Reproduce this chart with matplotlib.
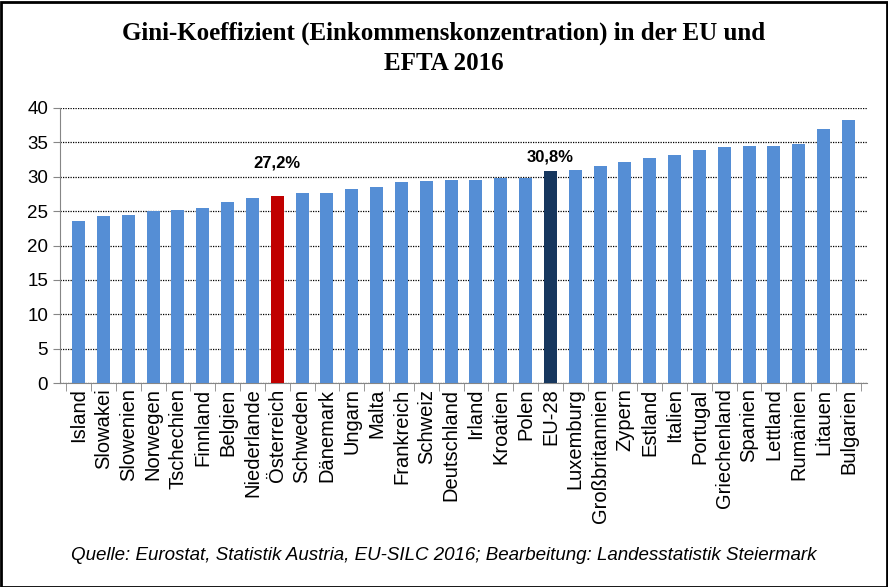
import numpy as np
import matplotlib.pyplot as plt
from matplotlib.patches import Rectangle

laender = ['Island', 'Slowakei', 'Slowenien', 'Norwegen', 'Tschechien', 'Finnland',
           'Belgien', 'Niederlande', 'Österreich', 'Schweden', 'Dänemark', 'Ungarn',
           'Malta', 'Frankreich', 'Schweiz', 'Deutschland', 'Irland', 'Kroatien',
           'Polen', 'EU-28', 'Luxemburg', 'Großbritannien', 'Zypern', 'Estland',
           'Italien', 'Portugal', 'Griechenland', 'Spanien', 'Lettland', 'Rumänien',
           'Litauen', 'Bulgarien']
gini = [23.6, 24.3, 24.4, 25.0, 25.1, 25.4,
        26.3, 26.9, 27.2, 27.6, 27.7, 28.2,
        28.5, 29.3, 29.4, 29.5, 29.5, 29.8,
        29.8, 30.8, 31.0, 31.5, 32.1, 32.7,
        33.1, 33.9, 34.3, 34.5, 34.5, 34.7,
        37.0, 38.3]
# Farbe, Beschriftung, Abstand der Beschriftung (pt)
markiert = {'Österreich': ('#C00000', '27,2%', 24), 'EU-28': ('#17375E', '30,8%', 10)}

plt.rcParams['font.family'] = ['Liberation Sans', 'DejaVu Sans']

fig = plt.figure(figsize=(8.88, 5.87), dpi=100)
ax = fig.add_axes([60 / 888, 1 - 383 / 587, (867 - 60) / 888, 275 / 587])

x = np.arange(len(laender))
farben = [markiert[l][0] if l in markiert else '#558ED5' for l in laender]
ax.bar(x, gini, width=0.52, color=farben, zorder=3)

for i, l in enumerate(laender):
    if l in markiert:
        ax.annotate(markiert[l][1], (i, gini[i]), xytext=(0, markiert[l][2]), textcoords='offset points',
                    ha='center', va='center', fontsize=12, fontweight='bold')

ax.set_xlim(-0.75, len(laender) - 0.25)
ax.set_ylim(0, 40)
ax.set_yticks(range(0, 41, 5))
ax.yaxis.grid(True, linestyle=(0, (1, 1)), color='black', linewidth=0.9, zorder=0)
ax.set_xticks(x)
ax.set_xticklabels(laender, rotation=90, fontsize=14.5)
ax.set_xticks(np.arange(-0.5, len(laender), 1), minor=True)
ax.tick_params(axis='x', which='major', length=0, pad=4)
ax.tick_params(axis='x', which='minor', length=6, color='#868686', direction='out')
ax.tick_params(axis='y', labelsize=13.5, length=5, color='#868686')
for s in ['top', 'right']:
    ax.spines[s].set_visible(False)
ax.spines['left'].set_color('#868686')
ax.spines['bottom'].set_color('#868686')

fig.text(0.5, 1 - 33 / 587, 'Gini-Koeffizient (Einkommenskonzentration) in der EU und',
         ha='center', va='center', fontsize=18, fontweight='bold', family='Liberation Serif')
fig.text(0.5, 1 - 63 / 587, 'EFTA 2016',
         ha='center', va='center', fontsize=18, fontweight='bold', family='Liberation Serif')
fig.text(0.5, 1 - 555 / 587,
         'Quelle: Eurostat, Statistik Austria, EU-SILC 2016; Bearbeitung: Landesstatistik Steiermark',
         ha='center', va='center', fontsize=13.5, style='italic')

fig.patches.append(Rectangle((0.5 / 888, 0.5 / 587), 1 - 2 / 888, 1 - 2 / 587, transform=fig.transFigure,
                             fill=False, edgecolor='black', linewidth=2))

fig.savefig('out.png', dpi=100)
